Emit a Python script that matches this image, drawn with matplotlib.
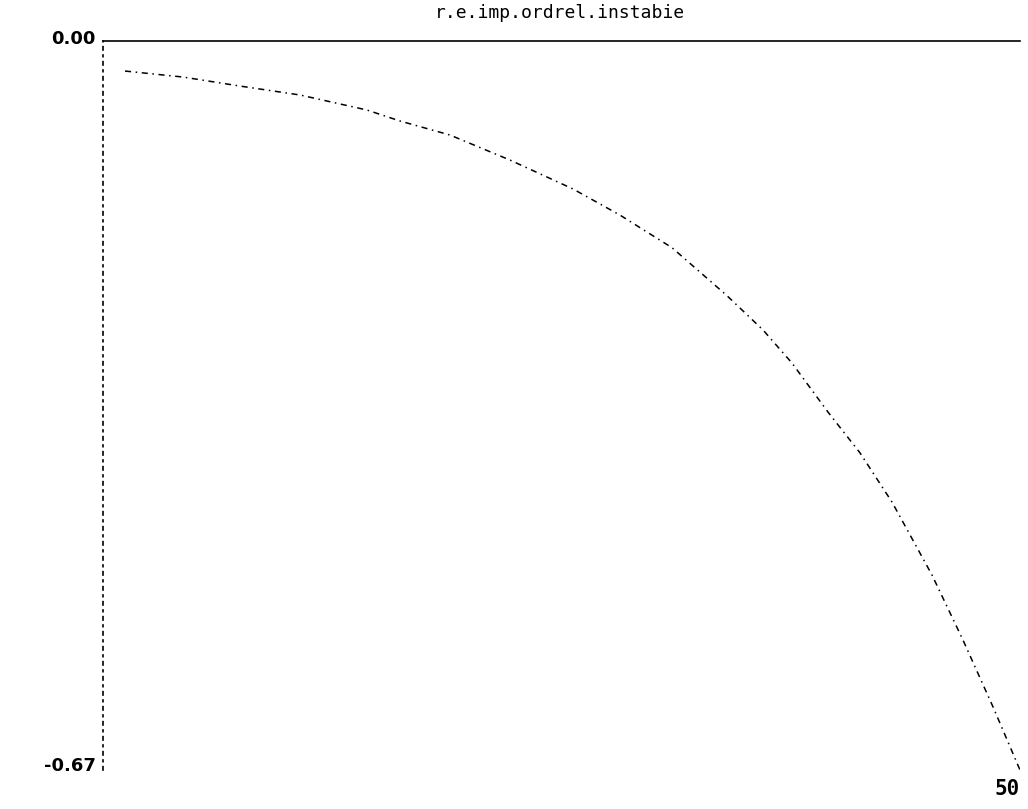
import matplotlib.pyplot as plt

# valeurs
x = [1.2, 4.36, 7.47, 10.74, 14.39, 16.19, 18.92, 22.19, 25.63, 28.19, 31.03,
     34.02, 35.99, 37.57, 39.53, 41.28, 43.02, 45.20, 46.89, 48.53, 50.0]
y = [-0.0276, -0.0331, -0.0414, -0.0496, -0.0634, -0.0735, -0.0864, -0.1094,
     -0.136, -0.160, -0.190, -0.234, -0.2656, -0.296, -0.341, -0.3786,
     -0.4237, -0.4907, -0.5505, -0.612, -0.67]

titre = 'r.e.imp.ordrel.instabie'
ymin, ymax = -0.67, 0.0
xmin, xmax = 0, 50

fig = plt.figure(figsize=(10.28, 8.09), dpi=100)
ax = fig.add_axes([0.1002, 0.0482, 0.8920, 0.9011])

ax.plot(x, y, color='black', linewidth=1.1, linestyle=(0, (4, 3, 1, 3)))

ax.set_xlim(xmin, xmax)
ax.set_ylim(ymin, ymax)
ax.set_xticks([])
ax.set_yticks([])

ax.spines['right'].set_visible(False)
ax.spines['bottom'].set_visible(False)
ax.spines['top'].set_linestyle((0, (12, 1, 2, 1)))
ax.spines['top'].set_linewidth(1.2)
ax.spines['left'].set_linestyle((0, (2, 3, 1, 3)))
ax.spines['left'].set_linewidth(1.2)

# etiquettes des bornes
ax.text(-0.4, ymax + 0.002, '0.00', ha='right', va='center', fontsize=13,
        family='DejaVu Sans', fontweight='bold')
ax.text(-0.4, ymin + 0.004, '-0.67', ha='right', va='center', fontsize=13,
        family='DejaVu Sans', fontweight='bold')
ax.text(xmax, ymin - 0.008, str(xmax), ha='right', va='top', fontsize=15,
        family='DejaVu Sans Mono', fontweight='bold')

fig.text(0.545, 0.984, titre, ha='center', va='center', fontsize=13,
         family='DejaVu Sans Mono')

fig.savefig('out.png', dpi=100, facecolor='white')
